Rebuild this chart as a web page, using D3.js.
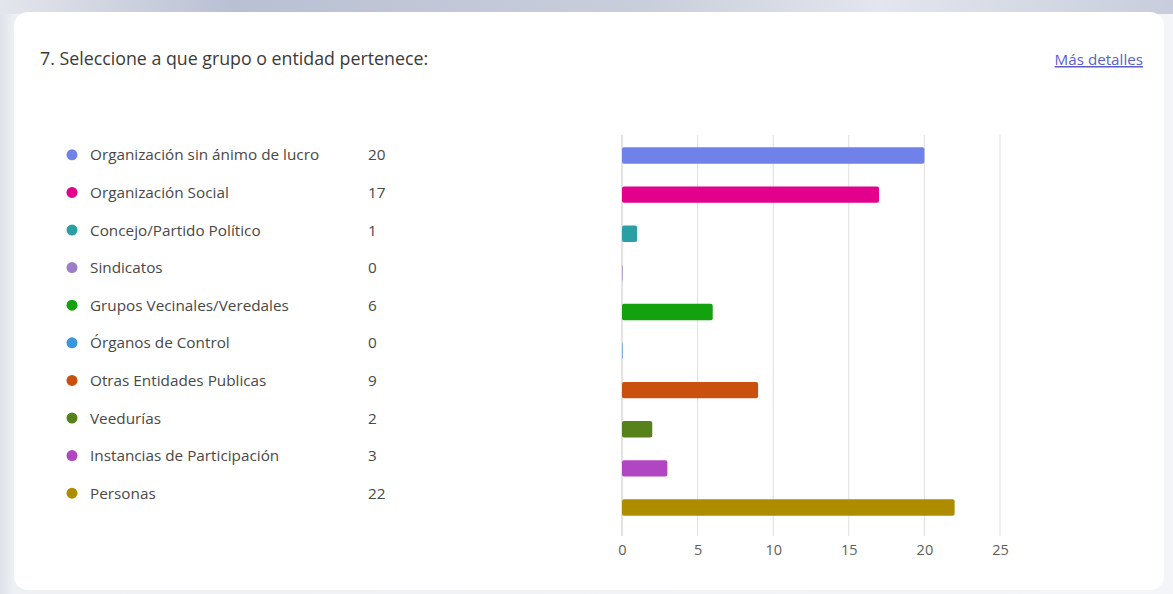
<!DOCTYPE html>
<html>
<head>
<meta charset="utf-8">
<script src="https://cdn.jsdelivr.net/npm/d3@7"></script>
<style>
  html, body { margin: 0; padding: 0; }
  body {
    width: 1173px; height: 594px; overflow: hidden;
    background: linear-gradient(90deg, #dfe2ea 0px, #eef0f4 14px, #f4f5f8 100%);
    font-family: "Open Sans", "Noto Sans", sans-serif;
  }
  #topband {
    position: absolute; left: 0; top: 0; width: 1173px; height: 14px;
    background: linear-gradient(90deg, #e4e6ec 0%, #b9c0d4 20%, #c9cedb 55%, #e3e6ee 75%, #c7cddc 100%);
  }
  #card {
    position: absolute; left: 14px; top: 12px; width: 1150px; height: 578px;
    background: #fff; border-radius: 14px;
  }
  svg { position: absolute; left: 0; top: 0; }
</style>
</head>
<body>
<div id="topband"></div>
<div id="card"></div>
<svg id="chart" width="1173" height="594"></svg>
<script>
var categories = [
  "Organización sin ánimo de lucro",
  "Organización Social",
  "Concejo/Partido Político",
  "Sindicatos",
  "Grupos Vecinales/Veredales",
  "Órganos de Control",
  "Otras Entidades Publicas",
  "Veedurías",
  "Instancias de Participación",
  "Personas"
];
var values = [20, 17, 1, 0, 6, 0, 9, 2, 3, 22];
var colors = ["#7081ea", "#e3008c", "#2aa0a4", "#9c7ec8", "#13a10e",
              "#3a96dd", "#ca5010", "#57811b", "#b146c2", "#ae8c00"];
var ticks = [0, 5, 10, 15, 20, 25];

var svg = d3.select("#chart");

// title + link
svg.append("text")
  .attr("x", 40).attr("y", 65)
  .attr("font-size", 17.8)
  .attr("fill", "#3b3a39")
  .text("7. Seleccione a que grupo o entidad pertenece:");

svg.append("text")
  .attr("x", 1143).attr("y", 65)
  .attr("text-anchor", "end")
  .attr("font-size", 15.2)
  .attr("fill", "#5b5fc7")
  .attr("text-decoration", "underline")
  .text("Más detalles");

// legend
var ly = d3.scaleBand().domain(categories).range([136, 512]);

var rows = svg.append("g").selectAll("g").data(categories).enter().append("g")
  .attr("transform", d => "translate(0," + (ly(d) + ly.bandwidth() / 2) + ")");

rows.append("circle")
  .attr("cx", 72).attr("cy", 0).attr("r", 5.5)
  .attr("fill", (d, i) => colors[i]);

rows.append("text")
  .attr("x", 90).attr("y", 5.5)
  .attr("font-size", 15.3)
  .attr("fill", "#4a4846")
  .text(d => d);

rows.append("text")
  .attr("x", 368).attr("y", 5.5)
  .attr("font-size", 15.3)
  .attr("fill", "#4a4846")
  .text((d, i) => values[i]);

// bar chart
var x = d3.scaleLinear().domain([0, 25]).range([622, 1000]);
var y = d3.scaleBand().domain(categories).range([136, 527]).paddingInner(0.58).paddingOuter(0.29);

svg.append("g").selectAll("line").data(ticks).enter().append("line")
  .attr("x1", d => x(d)).attr("x2", d => x(d))
  .attr("y1", 135).attr("y2", 536)
  .attr("stroke", d => d === 0 ? "#c8c6c4" : "#e1dfdd")
  .attr("stroke-width", 1);

var xAxis = d3.axisBottom(x).tickValues(ticks).tickSize(0).tickPadding(0);
var ax = svg.append("g")
  .attr("transform", "translate(0,543)")
  .call(xAxis);
ax.select(".domain").remove();
ax.selectAll("text")
  .attr("font-size", 14.5)
  .attr("font-family", "\"Open Sans\", \"Noto Sans\", sans-serif")
  .attr("fill", "#605e5c")
  .attr("dy", "0.85em");

svg.append("g").selectAll("rect").data(categories).enter().append("rect")
  .attr("x", x(0))
  .attr("y", d => y(d))
  .attr("width", (d, i) => Math.max(x(values[i]) - x(0), 0.6))
  .attr("height", y.bandwidth())
  .attr("rx", 2)
  .attr("fill", (d, i) => colors[i]);
</script>
</body>
</html>
